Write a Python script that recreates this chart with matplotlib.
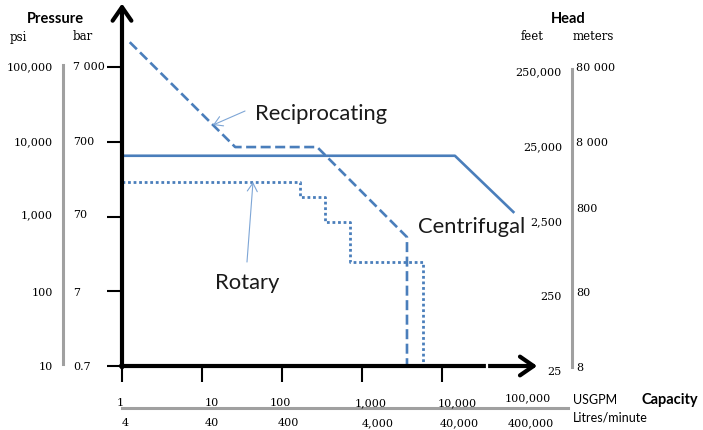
import matplotlib
matplotlib.use("Agg")
import matplotlib.pyplot as plt

# ---------------- data (USGPM vs psi) ----------------
recip_x = [1.25, 26, 275, 3650, 3650]
recip_y = [215000, 8500, 8500, 530, 10]
centr_x = [1, 14500, 78000]
centr_y = [6500, 6500, 1150]
rot_x = [1, 170, 170, 345, 345, 710, 710, 5800, 5800]
rot_y = [2900, 2900, 1830, 1830, 840, 840, 246, 246, 10]

psi_ticks = [10, 100, 1000, 10000, 100000]
psi_labels = ["10", "100", "1,000", "10,000", "100,000"]
bar_labels = ["0.7", "7", "70", "700", "7 000"]
feet_labels = ["25", "250", "2,500", "25,000", "250,000"]
meter_labels = ["8", "80", "800", "8 000", "80 000"]
gpm_ticks = [1, 10, 100, 1000, 10000]
gpm_labels = ["1", "10", "100", "1,000", "10,000", "100,000"]
lpm_labels = ["4", "40", "400", "4,000", "40,000", "400,000"]

W, H = 703, 431
fig = plt.figure(figsize=(W / 100, H / 100), dpi=100)

BLUE = "#4a7ebb"
LBLUE = "#7ea6d6"
GRAY = "#a0a0a0"
SERIF = "DejaVu Serif"
SANS = "Lato"
NUM = 8
UNIT = 8.5


def T(px, py, s, **kw):
    return fig.text(px / W, 1 - py / H, s, **kw)


# main axes: x left px 122 (1 USGPM), 80 px / decade; y bottom px 367 (10 psi), 74.75 px / decade
ax = fig.add_axes([122 / W, (H - 367) / H, 416 / W, 362.5 / H])
ax.set_xscale("log")
ax.set_yscale("log")
ax.set_xlim(1, 10 ** 5.2)
ax.set_ylim(10, 10 ** 5.85)
ax.patch.set_alpha(0)
for s in ax.spines.values():
    s.set_visible(False)
ax.set_xticks(gpm_ticks)
ax.set_yticks(psi_ticks)
ax.minorticks_off()
ax.set_xticklabels([])
ax.set_yticklabels([])
ax.tick_params(axis="x", direction="out", length=11.5, width=1.5, color="black")
ax.tick_params(axis="y", direction="out", length=10.8, width=1.5, color="black")

# curves
ax.plot(recip_x, recip_y, color=BLUE, lw=1.9, dashes=(3.8, 1.7), clip_on=False, zorder=3)
ax.plot(centr_x, centr_y, color=BLUE, lw=1.9, clip_on=False, zorder=3)
ax.plot(rot_x, rot_y, color=BLUE, lw=2.0, dashes=(1.0, 1.0), clip_on=False, zorder=3,
        solid_capstyle="butt", dash_capstyle="butt")

# axis arrows
arrow_kw = dict(arrowstyle="->,head_length=0.65,head_width=0.45", lw=3, color="black",
                shrinkA=0, shrinkB=0, mutation_scale=15)
ax.annotate("", xy=(0, 1.0), xytext=(0, -0.004), xycoords="axes fraction",
            arrowprops=arrow_kw, annotation_clip=False, zorder=5)
ax.annotate("", xy=(0.998, 0), xytext=(-0.003, 0), xycoords="axes fraction",
            arrowprops=arrow_kw, annotation_clip=False, zorder=5)
# small break in x axis
ax.plot([10 ** 4.5625, 10 ** 4.5625], [-0.012, 0.012], color="white", lw=1.6,
        transform=ax.get_xaxis_transform(), clip_on=False, zorder=6)

# annotation arrows
ax.annotate("", xy=(13.7, 16750), xytext=(34.5, 25800),
            arrowprops=dict(arrowstyle="->,head_length=0.5,head_width=0.3", lw=0.8,
                            color=LBLUE, shrinkA=0, shrinkB=0, mutation_scale=12),
            zorder=4)
ax.annotate("", xy=(43.4, 2900), xytext=(36.5, 246),
            arrowprops=dict(arrowstyle="->,head_length=0.5,head_width=0.3", lw=0.8,
                            color=LBLUE, shrinkA=0, shrinkB=0, mutation_scale=12),
            zorder=4)

T(255, 120, "Reciprocating", fontsize=15.8, family=SANS, va="baseline", ha="left", color="#1a1a1a")
T(215, 289, "Rotary", fontsize=15.8, family=SANS, va="baseline", ha="left", color="#1a1a1a")
T(418, 233, "Centrifugal", fontsize=15.8, family=SANS, va="baseline", ha="left", color="#1a1a1a")

# ---- left scale ----
T(55, 19, "Pressure", fontsize=10.5, family=SANS, fontweight="bold", ha="center", va="center")
T(18, 37, "psi", fontsize=UNIT, family=SERIF, ha="center", va="center")
T(83, 37, "bar", fontsize=UNIT, family=SERIF, ha="center", va="center")
psi_py = [367, 293, 215, 142, 67]
for py, a, b in zip(psi_py, psi_labels, bar_labels):
    T(53, py, a, fontsize=NUM, family=SERIF, ha="right", va="center")
    T(73, py, b, fontsize=NUM, family=SERIF, ha="left", va="center")
fig.add_artist(plt.Line2D([63 / W, 63 / W], [1 - 66 / H, 1 - 365 / H], color=GRAY, lw=2.2))

# ---- right scale ----
T(568, 19, "Head", fontsize=10.5, family=SANS, fontweight="bold", ha="center", va="center")
T(532, 37, "feet", fontsize=UNIT, family=SERIF, ha="center", va="center")
T(593, 37, "meters", fontsize=UNIT, family=SERIF, ha="center", va="center")
feet_py = [372, 297, 222, 147, 72]
m_py = [368, 293, 209, 143, 68]
for py, a in zip(feet_py, feet_labels):
    T(562, py, a, fontsize=NUM, family=SERIF, ha="right", va="center")
for py, b in zip(m_py, meter_labels):
    T(576, py, b, fontsize=NUM, family=SERIF, ha="left", va="center")
fig.add_artist(plt.Line2D([572 / W, 572 / W], [1 - 70 / H, 1 - 368 / H], color=GRAY, lw=2.2))

# ---- bottom scale ----
gpm_px = [120, 212, 280, 371, 457, 528]
gpm_py = [403, 403, 403, 403, 403, 398]
lpm_px = [125, 212, 288, 378, 459, 531]
for px, py, a in zip(gpm_px, gpm_py, gpm_labels):
    T(px, py, a, fontsize=NUM, family=SERIF, ha="center", va="center")
for px, b in zip(lpm_px, lpm_labels):
    T(px, 423, b, fontsize=NUM, family=SERIF, ha="center", va="center")
fig.add_artist(plt.Line2D([122 / W, 568 / W], [1 - 409 / H, 1 - 409 / H], color=GRAY, lw=2.2))
T(573, 400, "USGPM", fontsize=9, family=SANS, ha="left", va="center")
T(573, 418, "Litres/minute", fontsize=9, family=SANS, ha="left", va="center")
T(642, 400, "Capacity", fontsize=10.5, family=SANS, fontweight="bold", ha="left", va="center")

fig.savefig("out.png", dpi=100)
